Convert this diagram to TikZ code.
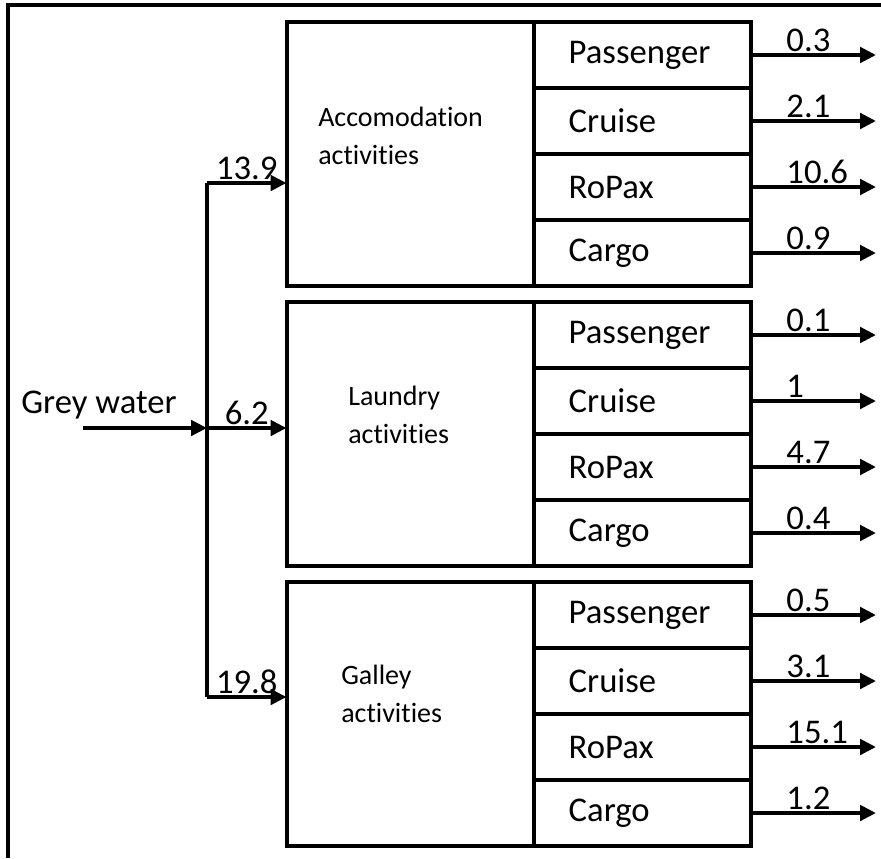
\documentclass[tikz,border=0pt]{standalone}
\usepackage{fontspec}
\setmainfont{Carlito}[Ligatures=NoCommon]
\usepackage{tikz}
\usetikzlibrary{positioning,arrows.meta}

\begin{document}
\begin{tikzpicture}[
    x=0.75pt, y=-0.75pt,
    box/.style={draw, line width=3pt, outer sep=0pt, inner sep=0pt,
                minimum width=185.25pt, minimum height=198pt},
    row/.style={draw, line width=3pt, outer sep=0pt, inner xsep=26pt, inner ysep=0pt,
                minimum width=162.75pt, minimum height=49.5pt, text width=110pt,
                align=left, font=\fontsize{26}{31}\selectfont},
    act/.style={anchor=west, inner sep=0pt, align=left, font=\fontsize{21}{28.5}\selectfont},
    num/.style={inner sep=1pt, font=\fontsize{26}{31}\selectfont},
    flow/.style={-{Triangle[length=12pt,width=11.5pt]}, line width=3pt},
  ]
  \useasboundingbox (0,0) rectangle (881,858);
  \draw[line width=2.4pt] (881,5) -- (8,5) -- (8,858);

  % Accomodation block
  \node[box] (acc) at (410,154) {};
  \node[act] (acctext) at (318,136) {Accomodation\\activities};
  \node[row, anchor=north west] (acc1) at (acc.north east) {Passenger};
  \node[row, below=0pt of acc1] (acc2) {Cruise};
  \node[row, below=0pt of acc2] (acc3) {RoPax};
  \node[row, below=0pt of acc3] (acc4) {Cargo};
  % Laundry block
  \node[box] (lau) at (410,434) {};
  \node[act] (lautext) at (348,415) {Laundry\\activities};
  \node[row, anchor=north west] (lau1) at (lau.north east) {Passenger};
  \node[row, below=0pt of lau1] (lau2) {Cruise};
  \node[row, below=0pt of lau2] (lau3) {RoPax};
  \node[row, below=0pt of lau3] (lau4) {Cargo};
  % Galley block
  \node[box] (gal) at (410,714) {};
  \node[act] (galtext) at (341,694) {Galley\\activities};
  \node[row, anchor=north west] (gal1) at (gal.north east) {Passenger};
  \node[row, below=0pt of gal1] (gal2) {Cruise};
  \node[row, below=0pt of gal2] (gal3) {RoPax};
  \node[row, below=0pt of gal3] (gal4) {Cargo};

  % Grey water input and split
  \node[inner sep=0pt, font=\fontsize{26}{31}\selectfont] (grey) at (99,405) {Grey water};
  \coordinate (src) at (83,428);
  \coordinate (j1) at (207,183);
  \coordinate (j2) at (207,428);
  \coordinate (j3) at (207,697);
  \coordinate (outx) at (876,0);

  \draw[flow] (src) -- (j2);
  \draw[line width=3pt] (j1) -- (j3);
  \draw[flow] (j1) -- (j1 -| acc.west) node[midway, above, num] {13.9};
  \draw[flow] (j2) -- (j2 -| lau.west) node[midway, above, num] {6.2};
  \draw[flow] (j3) -- (j3 -| gal.west) node[midway, above, num] {19.8};

  % Outputs
  \draw[flow] (acc1.east) -- (acc1.east -| outx) node[pos=0.26, above right, num] {0.3};
  \draw[flow] (acc2.east) -- (acc2.east -| outx) node[pos=0.26, above right, num] {2.1};
  \draw[flow] (acc3.east) -- (acc3.east -| outx) node[pos=0.26, above right, num] {10.6};
  \draw[flow] (acc4.east) -- (acc4.east -| outx) node[pos=0.26, above right, num] {0.9};
  \draw[flow] (lau1.east) -- (lau1.east -| outx) node[pos=0.26, above right, num] {0.1};
  \draw[flow] (lau2.east) -- (lau2.east -| outx) node[pos=0.26, above right, num] {1};
  \draw[flow] (lau3.east) -- (lau3.east -| outx) node[pos=0.26, above right, num] {4.7};
  \draw[flow] (lau4.east) -- (lau4.east -| outx) node[pos=0.26, above right, num] {0.4};
  \draw[flow] (gal1.east) -- (gal1.east -| outx) node[pos=0.26, above right, num] {0.5};
  \draw[flow] (gal2.east) -- (gal2.east -| outx) node[pos=0.26, above right, num] {3.1};
  \draw[flow] (gal3.east) -- (gal3.east -| outx) node[pos=0.26, above right, num] {15.1};
  \draw[flow] (gal4.east) -- (gal4.east -| outx) node[pos=0.26, above right, num] {1.2};
\end{tikzpicture}
\end{document}
